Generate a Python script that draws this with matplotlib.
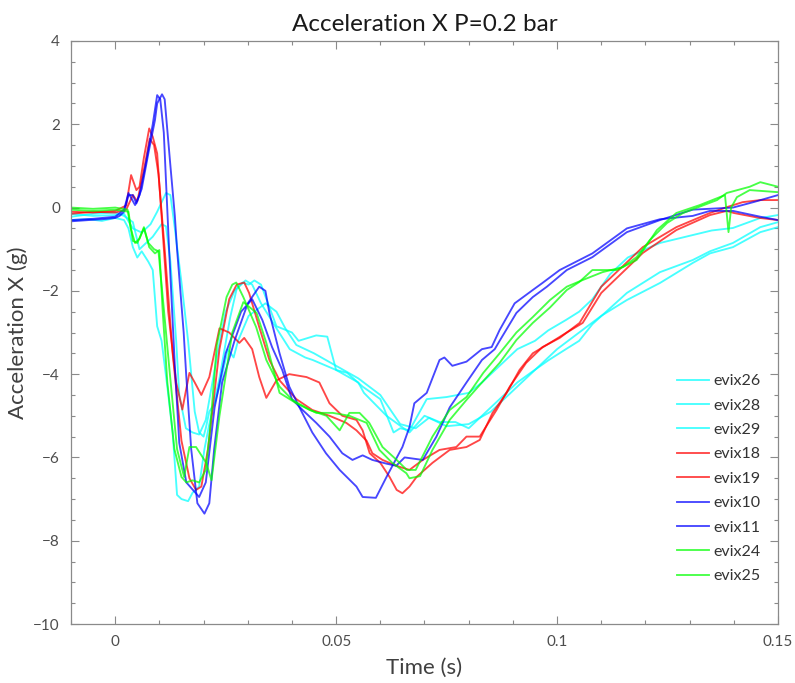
import matplotlib
matplotlib.use("Agg")
import matplotlib.pyplot as plt
from matplotlib.ticker import MultipleLocator

plt.rcParams['font.family'] = ['Lato', 'DejaVu Sans']

# ---------------- data ----------------
t_evix26 = [-0.01, -0.006, -0.003, 0.0, 0.002, 0.003, 0.004, 0.005, 0.006, 0.0075, 0.0085, 0.0095,
            0.0105, 0.0118, 0.013, 0.014, 0.015, 0.0165, 0.0175, 0.019, 0.0202, 0.0213, 0.0236, 0.026,
            0.0275, 0.0288, 0.0302, 0.0315, 0.033, 0.0365, 0.04, 0.0415, 0.0455, 0.048, 0.050, 0.0525,
            0.056, 0.06, 0.063, 0.0645, 0.0666, 0.0705, 0.075, 0.08, 0.083, 0.087, 0.091, 0.095, 0.098,
            0.102, 0.105, 0.108, 0.112, 0.116, 0.12, 0.1233, 0.1307, 0.135, 0.1398, 0.146, 0.15]
a_evix26 = [-0.3, -0.28, -0.32, -0.25, -0.3, -0.5, -0.95, -1.2, -1.05, -1.3, -1.5, -2.85,
            -3.2, -4.3, -5.4, -6.9, -7.0, -7.05, -6.85, -6.7, -5.8, -5.2, -4.1, -2.65,
            -1.95, -1.8, -1.85, -1.75, -1.85, -2.85, -3.0, -3.2, -3.07, -3.1, -3.9, -3.97,
            -4.3, -4.6, -5.4, -5.3, -5.35, -4.6, -4.55, -4.45, -4.2, -3.8, -3.4, -3.2, -2.95,
            -2.7, -2.5, -2.2, -1.6, -1.2, -1.0, -0.85, -0.66, -0.55, -0.49, -0.25, -0.18]

t_evix28 = [-0.01, -0.005, 0.0, 0.002, 0.004, 0.0055, 0.007, 0.0085, 0.0105, 0.0115, 0.0125, 0.0138,
            0.0145, 0.016, 0.0175, 0.019, 0.0205, 0.0215, 0.0235, 0.025, 0.027, 0.0295, 0.031, 0.033,
            0.0365, 0.0395, 0.043, 0.0447, 0.05, 0.055, 0.0563, 0.0614, 0.0666, 0.07, 0.0734, 0.077,
            0.08, 0.083, 0.087, 0.091, 0.094, 0.098, 0.102, 0.105, 0.108, 0.1158, 0.1233, 0.1307,
            0.1346, 0.1398, 0.146, 0.15]
a_evix28 = [-0.22, -0.15, -0.12, -0.2, -0.35, -1.0, -0.85, -0.7, -0.4, -0.45, -1.3, -3.2,
            -4.5, -5.3, -5.4, -5.45, -5.1, -4.5, -3.3, -2.5, -2.0, -1.75, -1.85, -2.3,
            -2.9, -3.4, -3.6, -3.66, -3.9, -4.2, -4.45, -5.0, -5.4, -5.0, -5.15, -5.15,
            -5.3, -5.0, -4.6, -4.2, -3.97, -3.67, -3.4, -3.2, -2.8, -2.05, -1.55, -1.26,
            -1.05, -0.85, -0.47, -0.35]

t_evix29 = [-0.01, -0.005, 0.0, 0.002, 0.004, 0.006, 0.008, 0.0095, 0.0115, 0.0125, 0.0135, 0.015,
            0.0165, 0.018, 0.019, 0.020, 0.0205, 0.0213, 0.0225, 0.0236, 0.0255, 0.0268, 0.0278, 0.0302,
            0.034, 0.0365, 0.0385, 0.041, 0.045, 0.05, 0.055, 0.06, 0.0645, 0.068, 0.071, 0.075,
            0.08, 0.085, 0.09, 0.095, 0.1, 0.105, 0.11, 0.1158, 0.1233, 0.1307, 0.1346, 0.1398,
            0.146, 0.15]
a_evix29 = [-0.15, -0.2, -0.18, -0.15, -0.5, -0.6, -0.4, -0.1, 0.35, 0.3, -0.5, -1.8,
            -3.2, -4.9, -5.4, -5.5, -5.3, -4.9, -4.7, -4.3, -3.4, -3.6, -3.2, -2.6,
            -2.3, -2.5, -2.9, -3.3, -3.5, -3.8, -4.1, -4.5, -5.2, -5.3, -5.05, -5.25,
            -5.2, -4.9, -4.4, -3.9, -3.4, -3.0, -2.6, -2.22, -1.81, -1.33, -1.1, -0.95,
            -0.59, -0.47]

t_evix18 = [-0.01, -0.005, 0.0, 0.0025, 0.0036, 0.0048, 0.0055, 0.0065, 0.0077, 0.0085, 0.0095, 0.0105,
            0.012, 0.0138, 0.0152, 0.016, 0.0168, 0.018, 0.0195, 0.0213, 0.0236, 0.0258, 0.0281, 0.0292,
            0.031, 0.0326, 0.0342, 0.0365, 0.0394, 0.0433, 0.0462, 0.0485, 0.0514, 0.0546, 0.056, 0.0576,
            0.06, 0.0621, 0.0637, 0.065, 0.0666, 0.0682, 0.0718, 0.0757, 0.0795, 0.0825, 0.0854, 0.0886,
            0.0915, 0.0945, 0.0984, 0.1022, 0.1058, 0.11, 0.1194, 0.127, 0.1346, 0.1384, 0.14, 0.1459,
            0.15]
a_evix18 = [-0.1, -0.12, -0.08, 0.05, 0.78, 0.42, 0.5, 1.2, 1.9, 1.7, 1.3, -0.2,
            -2.5, -4.2, -4.85, -4.4, -3.97, -4.2, -4.5, -4.07, -2.9, -3.0, -3.25, -3.13,
            -3.4, -4.07, -4.57, -4.15, -4.0, -4.07, -4.2, -4.7, -5.0, -5.1, -5.35, -5.9,
            -6.13, -6.47, -6.78, -6.86, -6.7, -6.47, -6.13, -5.82, -5.75, -5.58, -4.93, -4.45,
            -3.9, -3.5, -3.25, -3.0, -2.77, -2.05, -1.09, -0.54, -0.18, -0.08, -0.13, -0.25,
            -0.3]

t_evix19 = [-0.01, -0.005, 0.0, 0.0025, 0.004, 0.005, 0.0065, 0.0078, 0.0088, 0.0098, 0.0112, 0.013,
            0.015, 0.0168, 0.0183, 0.0195, 0.021, 0.0236, 0.0258, 0.0275, 0.0292, 0.0303, 0.0326, 0.0349,
            0.0372, 0.041, 0.0446, 0.0485, 0.0523, 0.0546, 0.0569, 0.0582, 0.0605, 0.0636, 0.0666, 0.0696,
            0.0734, 0.0772, 0.0795, 0.0825, 0.0863, 0.0893, 0.093, 0.0967, 0.1006, 0.1051, 0.11, 0.1194,
            0.127, 0.1346, 0.1384, 0.142, 0.146, 0.15]
a_evix19 = [-0.15, -0.1, -0.12, -0.05, 0.3, 0.15, 0.9, 1.65, 1.5, 0.8, -1.0, -3.5,
            -5.6, -6.5, -6.78, -6.7, -5.8, -3.4, -2.2, -1.85, -1.8, -2.05, -2.87, -3.66,
            -4.15, -4.6, -4.86, -5.0, -5.17, -5.35, -5.6, -5.9, -6.06, -6.2, -6.3, -6.06,
            -5.82, -5.75, -5.5, -5.5, -4.86, -4.3, -3.73, -3.35, -3.13, -2.77, -1.9, -0.95,
            -0.47, -0.13, 0.01, 0.13, 0.18, 0.18]

t_evix10 = [-0.01, -0.006, -0.003, 0.0, 0.001, 0.002, 0.003, 0.004, 0.0048, 0.006, 0.0075, 0.009,
            0.0095, 0.0106, 0.0112, 0.0125, 0.0135, 0.014, 0.0155, 0.0161, 0.0172, 0.0186, 0.0202, 0.0213,
            0.0224, 0.0242, 0.027, 0.030, 0.0326, 0.034, 0.0349, 0.0372, 0.0394, 0.0417, 0.0446, 0.0477,
            0.0508, 0.0546, 0.056, 0.059, 0.0614, 0.065, 0.0666, 0.0677, 0.0705, 0.0734, 0.0745, 0.0763,
            0.0795, 0.083, 0.0852, 0.087, 0.0904, 0.0945, 0.0967, 0.1006, 0.108, 0.1158, 0.1233, 0.1307,
            0.1346, 0.1398, 0.146, 0.15]
a_evix10 = [-0.33, -0.3, -0.28, -0.25, -0.2, -0.1, 0.3, 0.3, 0.1, 0.45, 1.3, 2.1,
            2.5, 2.72, 2.6, 1.0, -0.2, -1.0, -3.0, -4.07, -5.8, -7.1, -7.35, -7.1,
            -5.8, -4.2, -3.2, -2.3, -1.9, -2.0, -2.53, -3.5, -4.3, -4.8, -5.4, -5.9,
            -6.3, -6.7, -6.95, -6.97, -6.47, -5.75, -5.27, -4.7, -4.45, -3.66, -3.6, -3.8,
            -3.7, -3.4, -3.35, -2.94, -2.3, -1.98, -1.81, -1.5, -1.1, -0.5, -0.28, -0.2,
            -0.08, -0.08, -0.22, -0.3]

t_evix11 = [-0.01, -0.005, 0.0, 0.002, 0.003, 0.0045, 0.0055, 0.007, 0.0085, 0.0095, 0.0102, 0.011,
            0.0122, 0.0135, 0.0145, 0.0161, 0.019, 0.0205, 0.0225, 0.025, 0.0285, 0.031, 0.0333, 0.0355,
            0.0378, 0.040, 0.0424, 0.0455, 0.0485, 0.0514, 0.0537, 0.056, 0.0582, 0.0614, 0.0636, 0.0655,
            0.0696, 0.0727, 0.0757, 0.0795, 0.083, 0.0859, 0.087, 0.0908, 0.0945, 0.0977, 0.1022, 0.108,
            0.1158, 0.1233, 0.1307, 0.1398, 0.1444, 0.15]
a_evix11 = [-0.3, -0.27, -0.22, -0.05, 0.35, 0.06, 0.3, 1.1, 2.0, 2.7, 2.6, 1.8,
            -1.0, -3.8, -5.65, -6.6, -6.95, -6.6, -4.8, -3.5, -2.5, -2.2, -2.7, -3.35,
            -3.9, -4.6, -4.86, -5.17, -5.5, -5.9, -6.06, -5.95, -6.06, -6.15, -6.2, -6.0,
            -6.06, -5.5, -4.8, -4.2, -3.66, -3.4, -3.2, -2.53, -2.15, -1.9, -1.5, -1.19,
            -0.59, -0.3, -0.05, 0.0, 0.13, 0.3]

t_evix24 = [-0.01, -0.005, 0.0, 0.0028, 0.0035, 0.0045, 0.0055, 0.0065, 0.0077, 0.009, 0.010, 0.0107,
            0.0118, 0.0134, 0.015, 0.0161, 0.0175, 0.019, 0.0205, 0.0215, 0.023, 0.0252, 0.0265, 0.0274,
            0.029, 0.0319, 0.0342, 0.0372, 0.0401, 0.044, 0.0478, 0.0508, 0.053, 0.0553, 0.0575, 0.0605,
            0.0637, 0.066, 0.068, 0.0718, 0.0757, 0.0795, 0.0833, 0.087, 0.0908, 0.0945, 0.0984, 0.1022,
            0.1058, 0.1103, 0.1149, 0.118, 0.121, 0.1249, 0.1285, 0.1362, 0.1384, 0.1436, 0.146, 0.15]
a_evix24 = [0.0, -0.03, 0.0, -0.05, -0.5, -0.85, -0.75, -0.47, -0.95, -1.1, -1.02, -2.4,
            -4.2, -5.8, -6.47, -6.6, -6.55, -6.6, -6.3, -5.3, -3.3, -2.15, -1.85, -1.8,
            -2.15, -2.87, -3.66, -4.3, -4.62, -4.86, -5.0, -5.35, -4.93, -4.93, -5.17, -5.75,
            -6.06, -6.3, -6.3, -5.5, -4.86, -4.55, -3.97, -3.5, -3.0, -2.63, -2.22, -1.9,
            -1.74, -1.55, -1.43, -1.19, -0.78, -0.37, -0.13, 0.18, 0.35, 0.5, 0.61, 0.5]

t_evix25 = [-0.01, -0.005, 0.0, 0.003, 0.004, 0.005, 0.0065, 0.0075, 0.0088, 0.0098, 0.0122, 0.014,
            0.0156, 0.0168, 0.0183, 0.0206, 0.0218, 0.0236, 0.0265, 0.029, 0.032, 0.0342, 0.0372, 0.041,
            0.0455, 0.0492, 0.053, 0.0569, 0.0598, 0.0627, 0.0659, 0.0666, 0.069, 0.0718, 0.0757, 0.0795,
            0.083, 0.087, 0.0908, 0.0945, 0.0984, 0.1022, 0.105, 0.108, 0.1135, 0.118, 0.1226, 0.127,
            0.1323, 0.1380, 0.1388, 0.1394, 0.1407, 0.1436, 0.15]
a_evix25 = [-0.05, -0.08, -0.05, -0.1, -0.8, -0.85, -0.5, -0.85, -1.0, -1.05, -3.8, -5.8,
            -6.47, -5.75, -5.75, -6.13, -6.55, -5.0, -3.0, -2.27, -2.53, -3.25, -4.45, -4.7,
            -4.93, -4.93, -5.0, -5.17, -5.82, -6.13, -6.38, -6.5, -6.45, -5.82, -5.1, -4.62,
            -4.2, -3.73, -3.18, -2.77, -2.4, -1.98, -1.79, -1.5, -1.5, -1.26, -0.54, -0.13,
            0.06, 0.3, -0.59, 0.0, 0.25, 0.42, 0.37]

series_names = ['evix26', 'evix28', 'evix29', 'evix18', 'evix19', 'evix10', 'evix11', 'evix24', 'evix25']
series_t = [t_evix26, t_evix28, t_evix29, t_evix18, t_evix19, t_evix10, t_evix11, t_evix24, t_evix25]
series_a = [a_evix26, a_evix28, a_evix29, a_evix18, a_evix19, a_evix10, a_evix11, a_evix24, a_evix25]
series_colors = ['#00ffff', '#00ffff', '#00ffff', '#ff0000', '#ff0000', '#0000ff', '#0000ff',
                 '#00ff00', '#00ff00']

x_ticks = [0, 0.05, 0.1, 0.15]
x_ticklabels = ['0', '0.05', '0.1', '0.15']
y_ticks = [-10, -8, -6, -4, -2, 0, 2, 4]

# ---------------- figure ----------------
fig = plt.figure(figsize=(7.95, 6.83), dpi=100)
ax = fig.add_axes([71 / 795, 1 - 624 / 683, (778 - 71) / 795, (624 - 41) / 683])

for t, a, c, n in zip(series_t, series_a, series_colors, series_names):
    ax.plot(t, a, color=c, lw=1.35, alpha=0.72, label=n, solid_joinstyle='round')

ax.set_xlim(-0.01, 0.15)
ax.set_ylim(-10, 4)
ax.set_xticks(x_ticks)
ax.set_xticklabels(x_ticklabels)
ax.set_yticks(y_ticks)
ax.xaxis.set_minor_locator(MultipleLocator(0.01))
ax.yaxis.set_minor_locator(MultipleLocator(0.5))

grey = '#8a8a8a'
for s in ax.spines.values():
    s.set_color(grey)
    s.set_linewidth(0.9)
ax.tick_params(which='both', direction='in', top=True, right=True, color=grey, width=0.8)
ax.tick_params(which='major', length=6, labelsize=11, labelcolor='#4d4d4d', pad=8)
ax.tick_params(which='minor', length=3)

ax.set_title('Acceleration X P=0.2 bar', fontsize=17.5, color='#1a1a1a', pad=7)
ax.set_xlabel('Time (s)', fontsize=16, color='#404040', labelpad=6)
ax.set_ylabel('Acceleration X (g)', fontsize=16, color='#404040', labelpad=4)

leg = ax.legend(loc='upper left', bbox_to_anchor=(677 / 795, 1 - 374 / 683),
                bbox_transform=fig.transFigure, frameon=False, fontsize=11.5,
                handlelength=2.0, handletextpad=0.3, labelspacing=0.64, borderpad=0,
                borderaxespad=0)
for txt in leg.get_texts():
    txt.set_color('#333333')

fig.savefig('out.png', dpi=100)
